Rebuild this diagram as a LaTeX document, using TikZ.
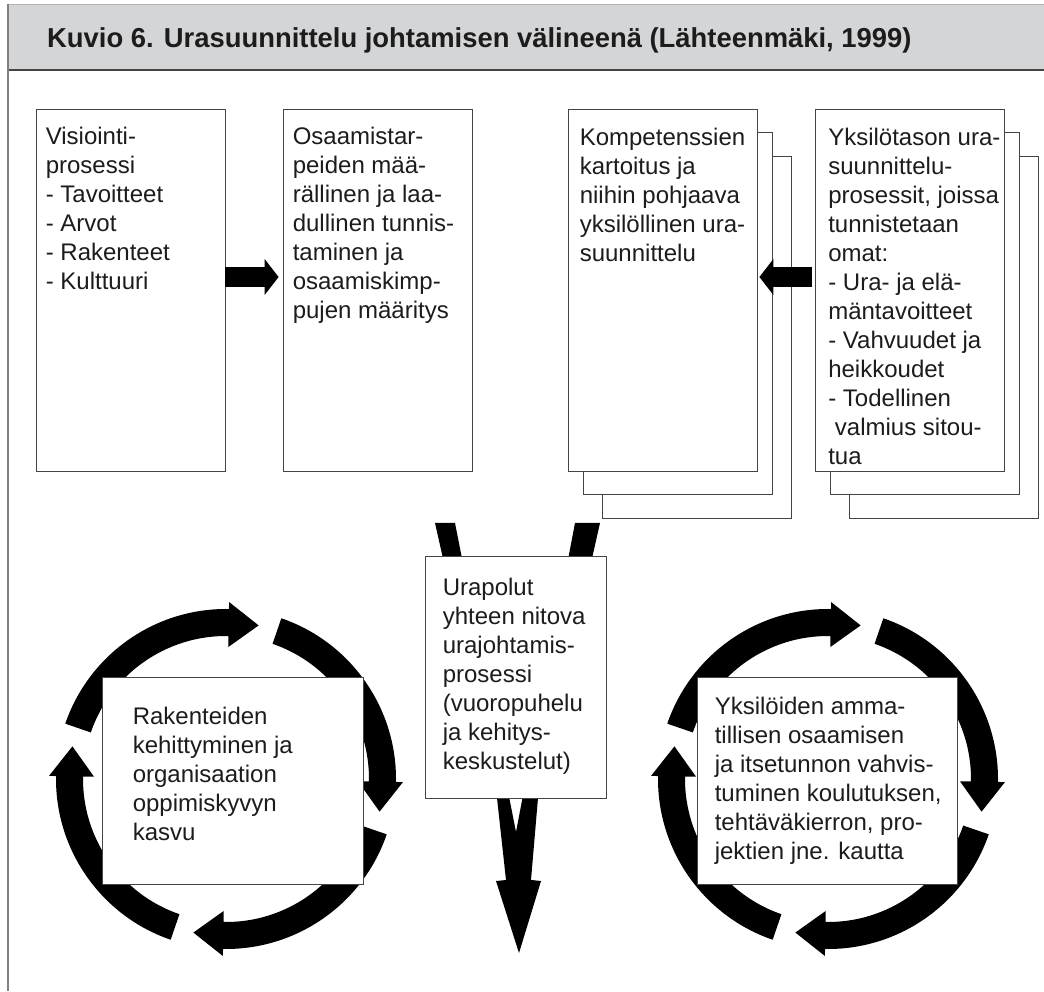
\documentclass[tikz,border=0pt]{standalone}
\usepackage{fontspec}
\setmainfont{Liberation Sans}
\usetikzlibrary{positioning,arrows.meta}

\definecolor{titlegrey}{HTML}{D4D5D7}
\definecolor{inkgrey}{HTML}{1C1C1C}
\definecolor{linegrey}{HTML}{444444}

\tikzset{
  page/.style={draw=linegrey, line width=0.8pt, fill=white, inner sep=0pt,
    minimum width=189pt, minimum height=362pt},
  middlebox/.style={page, minimum width=181pt, minimum height=242pt},
  ringbox/.style={page, minimum width=261pt, minimum height=207pt},
  boxtext/.style={anchor=north west, inner sep=0pt, align=left, text=inkgrey,
    font=\fontsize{24pt}{29pt}\selectfont},
  blockarrow/.style={line width=20pt,
    -{Triangle[length=14pt,width=36pt,line width=0pt]}},
}

\begin{document}
\begin{tikzpicture}[x=1pt,y=1pt]
  \useasboundingbox (0,0) rectangle (1044,991);

  % title bar and frame
  \fill[titlegrey] (8,921) rectangle (1046,987);
  \draw[gray!60, line width=0.8pt] (8,987) -- (1046,987);
  \draw[linegrey, line width=1.2pt] (8,921) -- (1046,921);
  \draw[gray, line width=1.2pt] (8,987) -- (8,0);
  \node[anchor=base west, inner sep=0pt, text=inkgrey,
        font=\fontsize{27.4pt}{30pt}\selectfont\bfseries] (title) at (47,943)
    {Kuvio 6. Urasuunnittelu johtamisen välineenä (Lähteenmäki, 1999)};

  % top row
  \node[page] (visio) at (130.5,701) {};
  \node[page] (osaam) at (377.5,701) {};
  \foreach \dx/\dy in {34/-47,15/-23} {
    \node[page] at (662.5+\dx,701+\dy) {};
    \node[page] at (910+\dx,701+\dy) {};
  }
  \node[page] (kompe) at (662.5,701) {};
  \node[page] (yksil) at (910,701) {};

  \node[boxtext] (visiotext) at ([xshift=10pt,yshift=-18pt]visio.north west)
    {Visiointi-\\prosessi\\- Tavoitteet\\- Arvot\\- Rakenteet\\- Kulttuuri};
  \node[boxtext] (osaamtext) at ([xshift=10pt,yshift=-18pt]osaam.north west)
    {Osaamistar-\\peiden mää-\\rällinen ja laa-\\dullinen tunnis-\\taminen ja\\osaamiskimp-\\pujen määritys};
  \node[boxtext] (kompetext) at ([xshift=12pt,yshift=-19pt]kompe.north west)
    {Kompetenssien\\kartoitus ja\\niihin pohjaava\\yksilöllinen ura-\\suunnittelu};
  \node[boxtext] (yksiltext) at ([xshift=13pt,yshift=-19pt]yksil.north west)
    {Yksilötason ura-\\suunnittelu-\\prosessit, joissa\\tunnistetaan\\omat:\\- Ura- ja elä-\\mäntavoitteet\\- Vahvuudet ja\\heikkoudet\\- Todellinen\\\ valmius sitou-\\tua};

  \draw[blockarrow] ([yshift=13pt]visio.east) -- ([xshift=-4pt,yshift=13pt]osaam.west);
  \draw[blockarrow] ([xshift=-3pt,yshift=13pt]yksil.west) -- ([xshift=2pt,yshift=13pt]kompe.east);

  % funnel into the middle box
  \fill (435,468) -- (455,468) -- (516,159) -- (575,468) -- (600,468)
    -- (538,193) -- (531,111) -- (541,110) -- (519,38) -- (496,110)
    -- (506,111) -- (497,193) -- cycle;
  \node[middlebox] (urapo) at (515.5,314) {};
  \node[boxtext] (urapotext) at ([xshift=18pt,yshift=-22pt]urapo.north west)
    {Urapolut\\yhteen nitova\\urajohtamis-\\prosessi\\(vuoropuhelu\\ja kehitys-\\keskustelut)};

  % two cycles
  \foreach \cx in {226,828}
    \foreach \a in {161,71,-19,-109}
      \fill[shift={(\cx,212)}] ({\a}:143pt) arc[start angle=\a, end angle=\a-72, radius=143pt]
        -- ({\a-72}:132pt) -- ({\a-83}:157pt) -- ({\a-72}:177pt) -- ({\a-72}:170pt)
        arc[start angle=\a-72, end angle=\a, radius=170pt] -- cycle;

  \node[ringbox] (raken) at (232.5,210.5) {};
  \node[ringbox, minimum width=260pt] (ammat) at (827,210.5) {};
  \node[boxtext] (rakentext) at ([xshift=31pt,yshift=-30pt]raken.north west)
    {Rakenteiden\\kehittyminen ja\\organisaation\\oppimiskyvyn\\kasvu};
  \node[boxtext] (ammattext) at ([xshift=18pt,yshift=-20pt]ammat.north west)
    {Yksilöiden amma-\\tillisen osaamisen\\ja itsetunnon vahvis-\\tuminen koulutuksen,\\tehtäväkierron, pro-\\jektien jne. kautta};
\end{tikzpicture}
\end{document}
